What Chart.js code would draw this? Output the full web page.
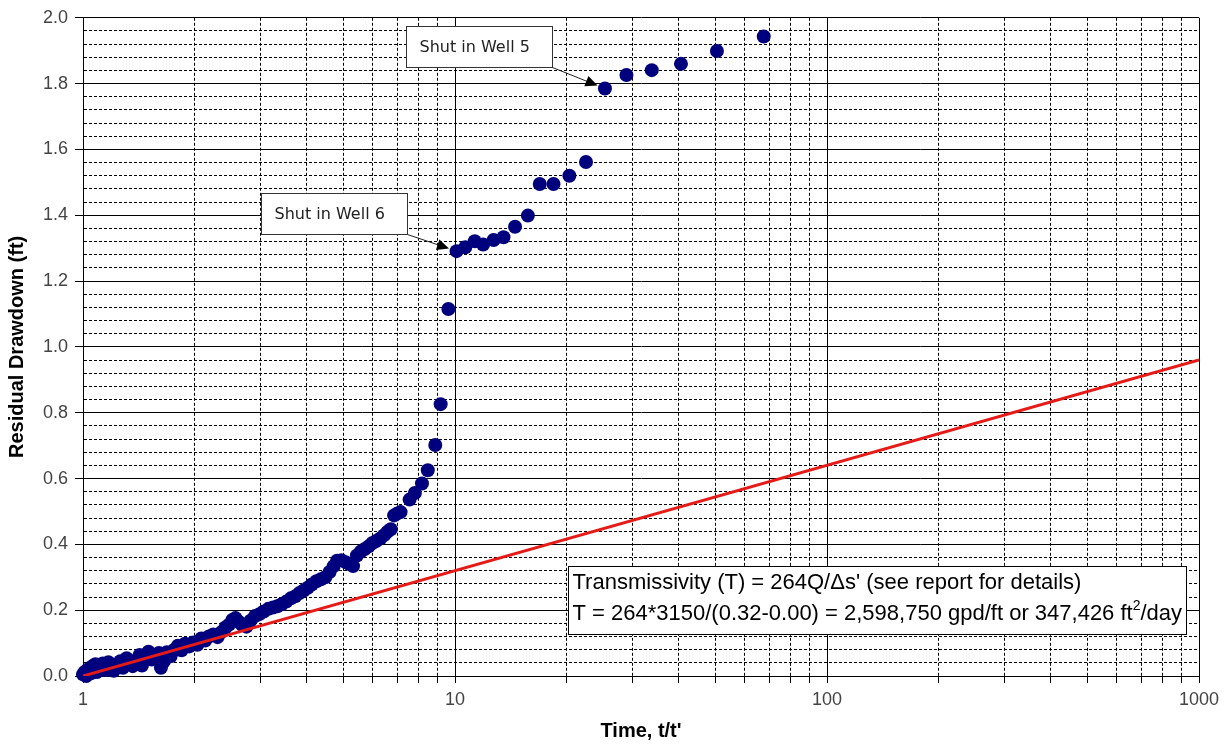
<!DOCTYPE html>
<html>
<head>
<meta charset="utf-8">
<title>Residual Drawdown</title>
<script src="https://cdn.jsdelivr.net/npm/chart.js@4.4.1/dist/chart.umd.min.js"></script>
<style>
  html, body { margin: 0; padding: 0; background: #fff; }
  #wrap { width: 1228px; height: 746px; }
</style>
</head>
<body>
<div id="wrap"><canvas id="recoveryChart" width="1228" height="746"></canvas></div>
<script>
// recovery data, t/t' against residual drawdown (ft)
const timeRatio = [
  1.00, 1.01, 1.02, 1.03, 1.05, 1.06, 1.08, 1.09, 1.11, 1.13, 1.15, 1.17, 1.19, 1.21,
  1.24, 1.26, 1.28, 1.31, 1.33, 1.36, 1.39, 1.42, 1.44, 1.47, 1.50, 1.53, 1.56, 1.60,
  1.62, 1.65, 1.68, 1.72, 1.76, 1.80, 1.84, 1.88, 1.93, 1.98, 2.03, 2.08, 2.13, 2.18,
  2.24, 2.30, 2.36, 2.42, 2.47, 2.52, 2.57, 2.62, 2.68, 2.75, 2.82, 2.90, 2.98, 3.06,
  3.15, 3.24, 3.33, 3.42, 3.52, 3.62, 3.72, 3.82, 3.92, 4.02, 4.12, 4.24, 4.36, 4.48,
  4.60, 4.72, 4.82, 4.95, 5.08, 5.20, 5.32, 5.45, 5.58, 5.72, 5.86, 6.00, 6.14, 6.30,
  6.45, 6.58, 6.72, 6.86, 7.00, 7.14, 7.55, 7.80, 8.15, 8.45, 8.85, 9.15, 9.60,
  10.1, 10.66, 11.3, 11.9, 12.7, 13.5, 14.5, 15.7, 16.9, 18.4, 20.3, 22.5,
  25.3, 28.9, 33.8, 40.5, 50.6, 67.6
];
const drawdown = [
  0.005, 0.012, 0.000, 0.020, 0.008, 0.030, 0.036, 0.012, 0.025, 0.038, 0.018, 0.042, 0.028, 0.016,
  0.035, 0.045, 0.025, 0.054, 0.038, 0.030, 0.048, 0.064, 0.032, 0.055, 0.074, 0.050, 0.062, 0.070,
  0.025, 0.045, 0.072, 0.060, 0.080, 0.092, 0.078, 0.098, 0.090, 0.102, 0.095, 0.114, 0.108, 0.120,
  0.126, 0.118, 0.134, 0.148, 0.156, 0.170, 0.176, 0.165, 0.155, 0.150, 0.168, 0.182, 0.188, 0.196,
  0.204, 0.208, 0.212, 0.218, 0.226, 0.236, 0.242, 0.252, 0.260, 0.268, 0.278, 0.288, 0.294, 0.300,
  0.316, 0.334, 0.350, 0.352, 0.346, 0.340, 0.334, 0.366, 0.378, 0.386, 0.394, 0.404, 0.410, 0.418,
  0.428, 0.438, 0.446, 0.488, 0.494, 0.498, 0.536, 0.556, 0.585, 0.625, 0.702, 0.826, 1.115,
  1.291, 1.303, 1.321, 1.311, 1.325, 1.333, 1.365, 1.399, 1.495, 1.495, 1.520, 1.562,
  1.785, 1.826, 1.841, 1.860, 1.899, 1.943
];

// straight-line fit, 0.32 ft per log cycle
const fitTime = [1, 1000];
const fitDrawdown = [0.00, 0.96];

const xMajorTicks = [1, 10, 100, 1000];
const yMajorTicks = [0, 0.2, 0.4, 0.6, 0.8, 1.0, 1.2, 1.4, 1.6, 1.8, 2.0];

const callouts = [
  { text: 'Shut in Well 5', boxAt: [7.38, 1.976], targetTime: 25.3 },
  { text: 'Shut in Well 6', boxAt: [3.01, 1.467], targetTime: 10.1 }
];

const noteAt = [20.1, 0.333];
const noteLine1 = "Transmissivity (T) = 264Q/\u0394s' (see report for details)";
const noteLine2 = 'T = 264*3150/(0.32-0.00) = 2,598,750 gpd/ft or 347,426 ft';
const noteSup = '2';
const noteTail = '/day';

const FONT = "'Liberation Sans', Arial, sans-serif";

// minor ticks: 2..9 inside each decade, 0.04 steps on drawdown
const xTickValues = [];
for (let d = 0; d < xMajorTicks.length - 1; d++) {
  for (let m = 1; m <= 9; m++) xTickValues.push(xMajorTicks[d] * m);
}
xTickValues.push(xMajorTicks[xMajorTicks.length - 1]);
const yTickValues = [];
for (let i = 0; i <= 50; i++) yTickValues.push(i * 4 / 100);

const isMajorX = v => xMajorTicks.includes(v);
const isMajorY = v => yMajorTicks.some(m => Math.abs(m - v) < 1e-6);

const points = timeRatio.map((t, i) => ({ x: t, y: drawdown[i] }));
const fitLine = fitTime.map((t, i) => ({ x: t, y: fitDrawdown[i] }));

function arrow(ctx, x1, y1, x2, y2) {
  const ang = Math.atan2(y2 - y1, x2 - x1);
  const c = Math.cos(ang), s = Math.sin(ang);
  ctx.beginPath();
  ctx.moveTo(x1, y1);
  ctx.lineTo(x2 - 8 * c, y2 - 8 * s);
  ctx.stroke();
  ctx.beginPath();
  ctx.moveTo(x2, y2);
  ctx.lineTo(x2 - 12 * c + 5.5 * s, y2 - 12 * s - 5.5 * c);
  ctx.lineTo(x2 - 12 * c - 5.5 * s, y2 - 12 * s + 5.5 * c);
  ctx.closePath();
  ctx.fill();
}

// callout boxes, arrows and the transmissivity note
const notesPlugin = {
  id: 'notes',
  afterDatasetsDraw(chart) {
    const { ctx, scales: { x, y } } = chart;
    ctx.save();

    ctx.font = "16px 'DejaVu Sans', Verdana, sans-serif";
    ctx.textBaseline = 'middle';
    callouts.forEach(c => {
      const bx = Math.round(x.getPixelForValue(c.boxAt[0])) + 0.5;
      const by = Math.round(y.getPixelForValue(c.boxAt[1])) + 0.5;
      const w = 146, h = 41;
      ctx.fillStyle = '#fff';
      ctx.strokeStyle = '#333';
      ctx.lineWidth = 1;
      ctx.fillRect(bx, by, w, h);
      ctx.strokeRect(bx, by, w, h);
      ctx.fillStyle = '#222';
      ctx.fillText(c.text, bx + 13, by + h / 2 + 1);

      const idx = timeRatio.indexOf(c.targetTime);
      const px = x.getPixelForValue(timeRatio[idx]);
      const py = y.getPixelForValue(drawdown[idx]);
      const sx = bx + w, sy = by + h;
      const ang = Math.atan2(py - sy, px - sx);
      ctx.strokeStyle = '#222';
      ctx.fillStyle = '#000';
      arrow(ctx, sx, sy, px - 8 * Math.cos(ang), py - 8 * Math.sin(ang));
    });

    const nx = Math.round(x.getPixelForValue(noteAt[0])) + 0.5;
    const ny = Math.round(y.getPixelForValue(noteAt[1])) + 0.5;
    ctx.font = '22px ' + FONT;
    const w1 = ctx.measureText(noteLine1).width;
    const wa = ctx.measureText(noteLine2).width;
    const wt = ctx.measureText(noteTail).width;
    ctx.font = '14px ' + FONT;
    const ws = ctx.measureText(noteSup).width;
    const nw = Math.ceil(Math.max(w1, wa + ws + wt) + 8);
    const nh = 68;
    ctx.fillStyle = '#fff';
    ctx.fillRect(nx, ny, nw, nh);
    ctx.strokeStyle = '#000';
    ctx.strokeRect(nx, ny, nw, nh);
    ctx.fillStyle = '#000';
    ctx.font = '22px ' + FONT;
    ctx.fillText(noteLine1, nx + 4, ny + 16);
    ctx.fillText(noteLine2, nx + 4, ny + 47);
    ctx.fillText(noteTail, nx + 4 + wa + ws, ny + 47);
    ctx.font = '14px ' + FONT;
    ctx.fillText(noteSup, nx + 4 + wa, ny + 40);

    ctx.restore();
  }
};

const ctx = document.getElementById('recoveryChart').getContext('2d');
new Chart(ctx, {
  type: 'scatter',
  data: {
    datasets: [
      {
        type: 'line',
        label: 'fit',
        data: fitLine,
        borderColor: '#e51b17',
        borderWidth: 3,
        pointRadius: 0,
        fill: false,
        tension: 0,
        order: 0
      },
      {
        label: 'Residual drawdown',
        data: points,
        backgroundColor: '#00007f',
        borderWidth: 0,
        pointRadius: 7,
        pointHoverRadius: 7,
        clip: false,
        order: 1
      }
    ]
  },
  options: {
    responsive: false,
    animation: false,
    events: [],
    layout: { padding: { top: 15, right: 29, left: 0, bottom: 0 } },
    plugins: {
      legend: { display: false },
      tooltip: { enabled: false }
    },
    scales: {
      x: {
        type: 'logarithmic',
        min: 1,
        max: 1000,
        afterBuildTicks: axis => { axis.ticks = xTickValues.map(value => ({ value })); },
        afterFit: axis => { axis.height = 70; },
        ticks: {
          autoSkip: false,
          maxRotation: 0,
          padding: 6,
          color: '#444',
          font: { family: FONT, size: 18 },
          callback: v => isMajorX(v) ? String(v) : ''
        },
        grid: {
          color: '#000',
          lineWidth: 1,
          tickLength: 7,
          tickColor: '#000'
        },
        border: {
          color: '#000',
          width: 1,
          dash: c => (c.tick && !isMajorX(c.tick.value)) ? [3, 2] : []
        },
        title: {
          display: true,
          text: "Time, t/t'",
          color: '#000',
          font: { family: FONT, size: 20, weight: 'bold' },
          padding: { top: 0, bottom: 3 }
        }
      },
      y: {
        type: 'linear',
        min: 0,
        max: 2,
        afterBuildTicks: axis => { axis.ticks = yTickValues.map(value => ({ value })); },
        afterFit: axis => { axis.width = 83; },
        ticks: {
          autoSkip: false,
          padding: 7,
          color: '#444',
          font: { family: FONT, size: 18 },
          callback: v => isMajorY(v) ? v.toFixed(1) : ''
        },
        grid: {
          color: '#000',
          lineWidth: 1,
          tickLength: 8,
          tickColor: c => (c.tick && isMajorY(c.tick.value)) ? '#000' : 'rgba(0,0,0,0)'
        },
        border: {
          color: '#000',
          width: 1,
          dash: c => (c.tick && !isMajorY(c.tick.value)) ? [3, 2] : []
        },
        title: {
          display: true,
          text: 'Residual Drawdown (ft)',
          color: '#000',
          font: { family: FONT, size: 20, weight: 'bold' },
          padding: { top: 5, bottom: 0 }
        }
      }
    }
  },
  plugins: [notesPlugin]
});
</script>
</body>
</html>
